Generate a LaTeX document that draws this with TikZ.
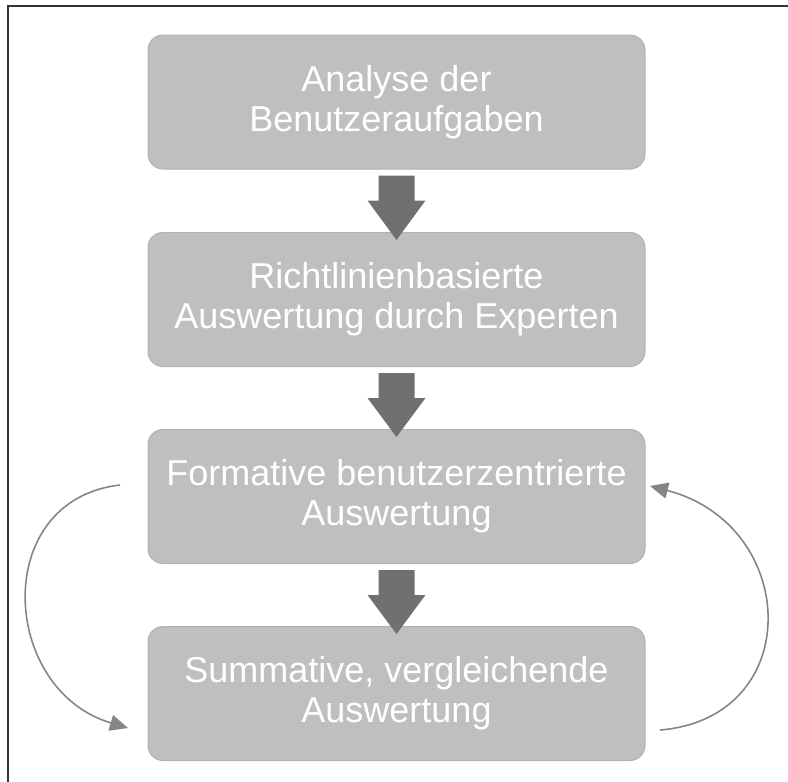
\documentclass[tikz,border=0pt]{standalone}
\usepackage{fontspec}
\setmainfont{Liberation Sans}
\usetikzlibrary{arrows.meta,calc}

\definecolor{boxfill}{HTML}{BFBFBF}
\definecolor{boxedge}{HTML}{B2B2B2}
\definecolor{blockgray}{HTML}{707070}
\definecolor{loopgray}{HTML}{858585}
\definecolor{framegray}{HTML}{333333}

\tikzset{
  stage/.style={draw=boxedge, line width=1pt, fill=boxfill, rounded corners=15pt,
    minimum width=497pt, minimum height=134pt, inner sep=0pt, align=center,
    text=white, font=\fontsize{36}{40}\selectfont},
  blockarrow/.style={fill=blockgray, draw=none},
  loop/.style={draw=loopgray, line width=1.6pt,
    -{Triangle[length=18pt,width=16pt]}},
}

% filled down arrow between two stacked stages
\newcommand{\downblock}[2]{%
  \fill[blockarrow]
    ($(#1.south)+(-18pt,-6pt)$) -- ($(#1.south)+(18pt,-6pt)$) --
    ($(#1.south)+(18pt,-31pt)$) -- ($(#1.south)+(29pt,-31pt)$) --
    ($(#2.north)+(0pt,-8pt)$) --
    ($(#1.south)+(-29pt,-31pt)$) -- ($(#1.south)+(-18pt,-31pt)$) -- cycle;}

\begin{document}
\begin{tikzpicture}[x=1pt,y=-1pt]
  \useasboundingbox (0,0) rectangle (788,782);

  % frame (only the top and left rules fall inside the page)
  \draw[framegray, line width=2pt] (8,782) -- (8,6) -- (788,6);

  \node[stage] (s1) at (396.5,102) {Analyse der\\Benutzeraufgaben};
  \node[stage] (s2) at (396.5,299.5) {Richtlinienbasierte\\Auswertung durch Experten};
  \node[stage] (s3) at (396.5,496.5) {Formative benutzerzentrierte\\Auswertung};
  \node[stage] (s4) at (396.5,693.5) {Summative, vergleichende\\Auswertung};

  \downblock{s1}{s2}
  \downblock{s2}{s3}
  \downblock{s3}{s4}

  % iteration loop between formative and summative evaluation
  \coordinate (l0) at (120,485);
  \coordinate (l1) at (128,728);
  \coordinate (r0) at (660,730);
  \coordinate (r1) at (650,486);
  \draw[loop] (l0) .. controls (-10,500) and (0,690) .. (l1);
  \draw[loop] (r0) .. controls (806,718) and (800,525) .. (r1);
\end{tikzpicture}
\end{document}
